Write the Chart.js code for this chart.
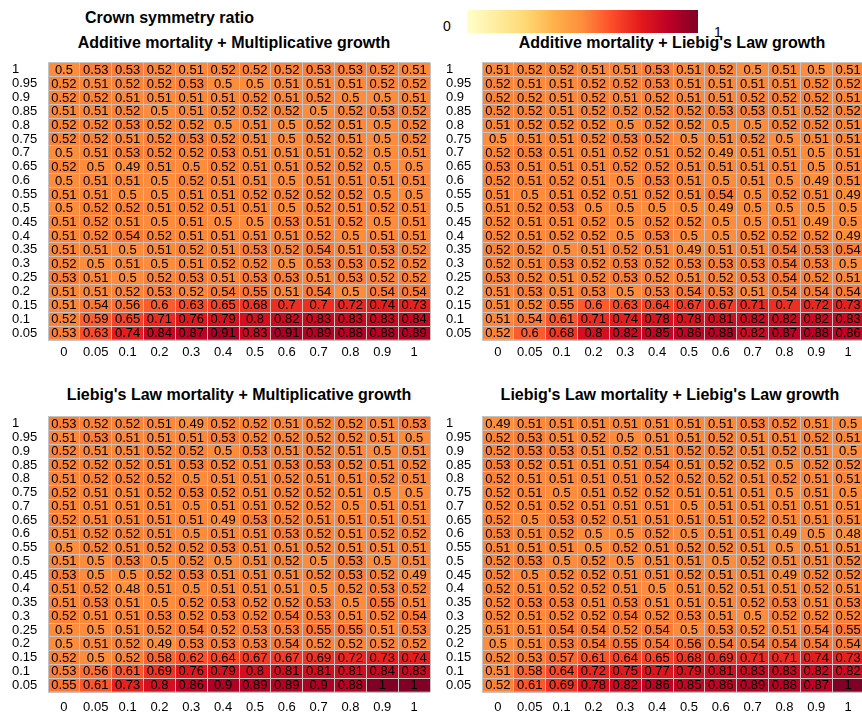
<!DOCTYPE html>
<html><head><meta charset="utf-8">
<script src="https://cdn.jsdelivr.net/npm/chart.js@4.4.1/dist/chart.umd.min.js"></script>
<style>
html,body{margin:0;padding:0;background:#fff;overflow:hidden;width:862px;height:715px;position:relative;}
.p{position:absolute;}
.t{position:absolute;font:bold 16px "Liberation Sans",Arial,sans-serif;color:#000;white-space:nowrap;line-height:18px;}
.c{transform:translateX(-50%);}
.lg{position:absolute;font:14px "Liberation Sans",Arial,sans-serif;color:#000;line-height:16px;}
#bar{position:absolute;left:467px;top:10px;width:231px;height:23px;
background:linear-gradient(to right,#ffffcc 0%,#ffeda0 12.5%,#fed976 25%,#feb24c 37.5%,#fd8d3c 50%,#fc4e2a 62.5%,#e31a1c 75%,#bd0026 87.5%,#800026 100%);}
</style></head><body>
<div class="t" style="left:85px;top:9px;">Crown symmetry ratio</div>
<div class="lg" style="left:443px;top:18px;">0</div>
<div id="bar"></div>
<div class="lg" style="left:714px;top:24px;">1</div>
<div class="t c" style="left:234px;top:34px;">Additive mortality + Multiplicative growth</div>
<div class="t c" style="left:672px;top:34px;">Additive mortality + Liebig's Law growth</div>
<div class="t c" style="left:239px;top:386px;">Liebig's Law mortality + Multiplicative growth</div>
<div class="t c" style="left:670px;top:386px;">Liebig's Law mortality + Liebig's Law growth</div>
<div class="p" style="left:0px;top:55px;width:432px;height:305px;"><canvas id="cA"></canvas></div>
<div class="p" style="left:434px;top:55px;width:432px;height:305px;"><canvas id="cB"></canvas></div>
<div class="p" style="left:0px;top:409px;width:432px;height:306px;"><canvas id="cC"></canvas></div>
<div class="p" style="left:434px;top:409px;width:432px;height:306px;"><canvas id="cD"></canvas></div>
<script>
// column (x) categories and row (y) categories, rows listed top to bottom
const colLabels = ['0','0.05','0.1','0.2','0.3','0.4','0.5','0.6','0.7','0.8','0.9','1'];
const rowLabels = ['1','0.95','0.9','0.85','0.8','0.75','0.7','0.65','0.6','0.55','0.5','0.45','0.4','0.35','0.3','0.25','0.2','0.15','0.1','0.05'];

// Additive mortality + Multiplicative growth
const addMult = [
[0.5,0.53,0.53,0.52,0.51,0.52,0.52,0.52,0.53,0.53,0.52,0.51],
[0.52,0.51,0.52,0.52,0.53,0.5,0.5,0.51,0.51,0.51,0.52,0.52],
[0.52,0.52,0.51,0.51,0.51,0.51,0.52,0.51,0.52,0.5,0.5,0.51],
[0.51,0.51,0.52,0.5,0.51,0.52,0.52,0.52,0.5,0.52,0.53,0.52],
[0.52,0.52,0.53,0.52,0.52,0.5,0.51,0.5,0.52,0.51,0.5,0.52],
[0.52,0.52,0.51,0.52,0.53,0.52,0.51,0.5,0.52,0.51,0.5,0.52],
[0.5,0.51,0.53,0.52,0.52,0.53,0.51,0.51,0.51,0.52,0.5,0.51],
[0.52,0.5,0.49,0.51,0.5,0.52,0.51,0.51,0.52,0.52,0.5,0.5],
[0.5,0.51,0.51,0.5,0.52,0.51,0.51,0.5,0.51,0.51,0.51,0.51],
[0.51,0.51,0.5,0.5,0.51,0.51,0.52,0.52,0.52,0.52,0.5,0.5],
[0.5,0.52,0.52,0.51,0.52,0.51,0.51,0.5,0.52,0.51,0.52,0.51],
[0.51,0.52,0.51,0.5,0.51,0.5,0.5,0.53,0.51,0.52,0.5,0.51],
[0.51,0.52,0.54,0.52,0.51,0.51,0.51,0.51,0.52,0.5,0.51,0.51],
[0.51,0.51,0.5,0.51,0.52,0.51,0.53,0.52,0.54,0.51,0.53,0.52],
[0.52,0.5,0.51,0.5,0.51,0.52,0.52,0.5,0.53,0.53,0.52,0.52],
[0.53,0.51,0.5,0.52,0.53,0.51,0.53,0.53,0.51,0.53,0.52,0.52],
[0.51,0.51,0.52,0.53,0.52,0.54,0.55,0.51,0.54,0.5,0.54,0.54],
[0.51,0.54,0.56,0.6,0.63,0.65,0.68,0.7,0.7,0.72,0.74,0.73],
[0.52,0.59,0.65,0.71,0.76,0.79,0.8,0.82,0.83,0.83,0.83,0.84],
[0.53,0.63,0.74,0.84,0.87,0.91,0.83,0.91,0.89,0.88,0.88,0.89]
];

// Additive mortality + Liebig's Law growth
const addLiebig = [
[0.51,0.52,0.52,0.51,0.51,0.53,0.51,0.52,0.5,0.51,0.5,0.51],
[0.52,0.51,0.51,0.52,0.52,0.53,0.51,0.51,0.51,0.51,0.52,0.52],
[0.52,0.52,0.51,0.52,0.51,0.52,0.51,0.51,0.52,0.52,0.52,0.51],
[0.52,0.52,0.51,0.52,0.52,0.52,0.52,0.53,0.53,0.51,0.52,0.52],
[0.51,0.52,0.52,0.52,0.5,0.52,0.52,0.5,0.5,0.52,0.52,0.51],
[0.5,0.51,0.51,0.52,0.53,0.52,0.5,0.51,0.52,0.5,0.51,0.51],
[0.52,0.53,0.51,0.51,0.52,0.51,0.52,0.49,0.51,0.51,0.5,0.51],
[0.53,0.51,0.51,0.51,0.52,0.52,0.51,0.51,0.51,0.51,0.5,0.51],
[0.52,0.51,0.52,0.51,0.5,0.53,0.51,0.5,0.51,0.5,0.49,0.51],
[0.51,0.5,0.51,0.52,0.51,0.52,0.51,0.54,0.5,0.52,0.51,0.49],
[0.51,0.52,0.53,0.5,0.5,0.5,0.5,0.49,0.5,0.5,0.5,0.5],
[0.52,0.51,0.51,0.52,0.5,0.52,0.52,0.5,0.5,0.51,0.49,0.5],
[0.52,0.51,0.52,0.52,0.5,0.53,0.5,0.5,0.52,0.52,0.52,0.49],
[0.52,0.52,0.5,0.51,0.52,0.51,0.49,0.51,0.51,0.54,0.53,0.54],
[0.52,0.51,0.53,0.52,0.53,0.52,0.53,0.53,0.53,0.54,0.53,0.5],
[0.53,0.52,0.51,0.52,0.53,0.52,0.51,0.52,0.53,0.54,0.52,0.51],
[0.51,0.53,0.51,0.53,0.5,0.53,0.54,0.53,0.51,0.54,0.54,0.54],
[0.51,0.52,0.55,0.6,0.63,0.64,0.67,0.67,0.71,0.7,0.72,0.73],
[0.51,0.54,0.61,0.71,0.74,0.78,0.78,0.81,0.82,0.82,0.82,0.83],
[0.52,0.6,0.68,0.8,0.82,0.85,0.86,0.88,0.82,0.87,0.88,0.86]
];

// Liebig's Law mortality + Multiplicative growth
const liebigMult = [
[0.53,0.52,0.52,0.51,0.49,0.52,0.52,0.51,0.52,0.52,0.51,0.53],
[0.51,0.53,0.51,0.51,0.51,0.53,0.52,0.52,0.52,0.52,0.51,0.5],
[0.52,0.51,0.51,0.52,0.52,0.5,0.53,0.51,0.52,0.51,0.5,0.51],
[0.52,0.52,0.52,0.51,0.53,0.52,0.51,0.53,0.53,0.52,0.51,0.52],
[0.51,0.52,0.52,0.52,0.5,0.51,0.51,0.52,0.51,0.51,0.52,0.51],
[0.52,0.51,0.51,0.52,0.53,0.52,0.51,0.52,0.52,0.51,0.5,0.5],
[0.51,0.51,0.51,0.51,0.5,0.51,0.51,0.52,0.52,0.5,0.51,0.51],
[0.52,0.51,0.51,0.51,0.51,0.49,0.53,0.52,0.51,0.51,0.51,0.51],
[0.51,0.52,0.52,0.51,0.5,0.51,0.51,0.53,0.52,0.51,0.52,0.52],
[0.5,0.52,0.51,0.52,0.52,0.53,0.51,0.51,0.52,0.51,0.51,0.51],
[0.51,0.5,0.53,0.5,0.52,0.5,0.51,0.52,0.5,0.53,0.5,0.51],
[0.53,0.5,0.5,0.52,0.53,0.51,0.51,0.51,0.52,0.53,0.52,0.49],
[0.51,0.52,0.48,0.51,0.5,0.51,0.51,0.51,0.5,0.52,0.53,0.52],
[0.51,0.53,0.51,0.5,0.52,0.53,0.52,0.52,0.53,0.5,0.55,0.51],
[0.52,0.51,0.51,0.53,0.52,0.53,0.52,0.54,0.53,0.51,0.52,0.54],
[0.5,0.5,0.51,0.52,0.54,0.52,0.53,0.53,0.55,0.55,0.51,0.53],
[0.5,0.51,0.52,0.49,0.53,0.53,0.53,0.54,0.52,0.52,0.52,0.52],
[0.52,0.5,0.52,0.58,0.62,0.64,0.67,0.67,0.69,0.72,0.73,0.74],
[0.53,0.56,0.61,0.69,0.76,0.79,0.8,0.81,0.81,0.81,0.84,0.83],
[0.55,0.61,0.73,0.8,0.86,0.9,0.89,0.89,0.9,0.88,1,1]
];

// Liebig's Law mortality + Liebig's Law growth
const liebigLiebig = [
[0.49,0.51,0.51,0.51,0.51,0.51,0.51,0.51,0.53,0.52,0.51,0.5],
[0.52,0.53,0.51,0.52,0.5,0.51,0.51,0.52,0.51,0.51,0.52,0.51],
[0.52,0.53,0.53,0.51,0.52,0.51,0.52,0.52,0.51,0.52,0.51,0.5],
[0.53,0.52,0.51,0.51,0.51,0.54,0.51,0.52,0.52,0.5,0.52,0.52],
[0.52,0.51,0.51,0.51,0.51,0.52,0.52,0.52,0.51,0.52,0.51,0.51],
[0.52,0.51,0.5,0.51,0.52,0.52,0.51,0.51,0.51,0.5,0.51,0.5],
[0.52,0.51,0.52,0.51,0.51,0.51,0.5,0.51,0.51,0.51,0.51,0.51],
[0.52,0.5,0.53,0.52,0.51,0.51,0.51,0.51,0.52,0.51,0.51,0.51],
[0.53,0.51,0.52,0.5,0.5,0.52,0.5,0.51,0.51,0.49,0.5,0.48],
[0.51,0.51,0.51,0.5,0.52,0.51,0.52,0.52,0.51,0.5,0.51,0.51],
[0.52,0.53,0.5,0.52,0.5,0.51,0.51,0.5,0.52,0.51,0.51,0.52],
[0.52,0.5,0.52,0.52,0.51,0.51,0.52,0.51,0.51,0.49,0.52,0.52],
[0.52,0.51,0.52,0.52,0.51,0.5,0.51,0.52,0.51,0.51,0.52,0.51],
[0.52,0.53,0.53,0.51,0.53,0.51,0.51,0.51,0.52,0.53,0.51,0.53],
[0.52,0.51,0.52,0.52,0.54,0.52,0.53,0.51,0.5,0.52,0.52,0.52],
[0.51,0.51,0.54,0.54,0.52,0.54,0.5,0.53,0.52,0.51,0.54,0.55],
[0.5,0.51,0.53,0.54,0.55,0.54,0.56,0.54,0.54,0.54,0.54,0.54],
[0.52,0.53,0.57,0.61,0.64,0.65,0.68,0.69,0.71,0.71,0.74,0.73],
[0.51,0.58,0.64,0.72,0.75,0.77,0.79,0.81,0.83,0.83,0.82,0.82],
[0.52,0.61,0.69,0.78,0.82,0.86,0.85,0.86,0.89,0.88,0.87,1]
];

const FONT = '"Liberation Sans", Arial, sans-serif';
const stops = ['#ffffcc','#ffeda0','#fed976','#feb24c','#fd8d3c','#fc4e2a','#e31a1c','#bd0026','#800026'];
function hex(h){return [parseInt(h.slice(1,3),16),parseInt(h.slice(3,5),16),parseInt(h.slice(5,7),16)];}
function colorOf(v){
  const t = Math.max(0, Math.min(1, v)) * (stops.length - 1);
  const i = Math.min(stops.length - 2, Math.floor(t));
  const f = t - i;
  const a = hex(stops[i]), b = hex(stops[i+1]);
  const c = a.map((x,k)=>Math.round(x + (b[k]-x)*f));
  return 'rgb(' + c.join(',') + ')';
}

const cellText = {
  id: 'cellText',
  afterDraw(chart) {
    const ctx = chart.ctx;
    ctx.save();
    ctx.font = '13px ' + FONT;
    ctx.fillStyle = '#000';
    ctx.textAlign = 'center';
    ctx.textBaseline = 'middle';
    chart.data.datasets.forEach((ds, i) => {
      const meta = chart.getDatasetMeta(i);
      meta.data.forEach((bar, j) => {
        const p = bar.getProps(['x','y','base'], true);
        ctx.fillText(String(ds.cellValues[j]), p.x, (p.y + p.base) / 2 + 0.5);
      });
    });
    ctx.restore();
  }
};

function makeChart(id, values, xAxisH, xPad) {
  const datasets = [];
  for (let r = rowLabels.length - 1; r >= 0; r--) {
    datasets.push({
      label: rowLabels[r],
      data: values[r].map(() => 1),
      cellValues: values[r],
      backgroundColor: values[r].map(colorOf),
      borderWidth: 0,
      barPercentage: 1,
      categoryPercentage: 1,
      stack: 'cells'
    });
  }
  new Chart(document.getElementById(id), {
    type: 'bar',
    data: { labels: colLabels, datasets },
    plugins: [cellText],
    options: {
      responsive: true,
      maintainAspectRatio: false,
      animation: false,
      layout: { padding: { left: 12, right: 2, top: 5, bottom: 0 } },
      plugins: { legend: { display: false }, tooltip: { enabled: false }, title: { display: false } },
      scales: {
        x: {
          type: 'category', stacked: true, offset: true,
          grid: { offset: true, color: '#c4c4c4', lineWidth: 1, drawTicks: false, z: 1 },
          border: { display: false },
          ticks: { color: '#000', font: { family: FONT, size: 13 }, padding: xPad, maxRotation: 0, autoSkip: false },
          afterFit: s => { s.height = xAxisH; }
        },
        y: {
          type: 'linear', stacked: true, min: 0, max: rowLabels.length, position: 'right',
          ticks: { display: false, stepSize: 1 },
          grid: { color: '#c4c4c4', lineWidth: 1, drawTicks: false, z: 1 },
          border: { display: false },
          afterFit: s => { s.width = 0; }
        },
        yl: {
          type: 'category', labels: rowLabels, offset: true, position: 'left', axis: 'y',
          grid: { display: false, drawTicks: false },
          border: { display: false },
          ticks: { crossAlign: 'far', color: '#000', font: { family: FONT, size: 13 }, autoSkip: false, padding: 0 },
          afterFit: s => { s.width = 36; }
        }
      }
    }
  });
}

makeChart('cA', addMult, 20, 5);
makeChart('cB', addLiebig, 20, 5);
makeChart('cC', liebigMult, 23, 8);
makeChart('cD', liebigLiebig, 23, 8);
</script>
</body></html>
